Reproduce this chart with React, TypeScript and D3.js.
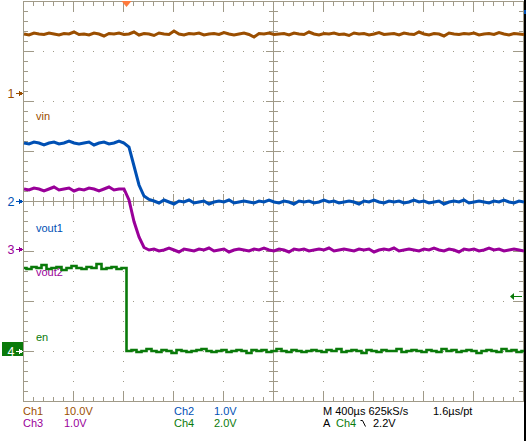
import React from "react";
import * as d3 from "d3";

// Sampling grid of the acquisition (µs relative to trigger)
const T0_US = -820;
const DT_US = 40;

// Ch1 (vin), volts
const ch1Volts = [
  11.8, 11.6, 12.0, 11.8, 11.7, 12.0, 11.8, 11.6, 11.9, 11.8,
  12.2, 11.7, 11.8, 11.6, 12.0, 11.8, 11.4, 11.9, 11.8, 12.0,
  11.7, 11.8, 12.2, 11.6, 11.9, 11.8, 11.5, 12.0, 11.8, 11.7,
  12.4, 11.8, 11.6, 11.9, 11.8, 12.0, 11.6, 11.8, 11.9, 11.7,
  12.1, 11.8, 11.6, 11.8, 12.0, 11.7, 11.2, 11.9, 11.8, 12.0,
  11.7, 11.8, 11.9, 11.6, 12.0, 11.8, 11.7, 12.2, 11.8, 11.6,
  11.9, 11.8, 12.0, 11.7, 11.8, 11.5, 12.0, 11.8, 11.9, 11.6,
  11.8, 12.1, 11.7, 11.8, 11.9, 11.6, 12.0, 11.8, 11.7, 12.2,
  11.8, 11.6, 11.9, 11.8, 11.4, 12.0, 11.8, 11.7, 11.9, 11.8,
  12.0, 11.6, 11.8, 11.9, 11.7, 12.1, 11.8, 11.6, 11.9, 11.8, 11.7,
];

// Ch2 (vout1), volts
const ch2Volts = [
  1.16, 1.14, 1.18, 1.16, 1.12, 1.16, 1.18, 1.14, 1.16, 1.20,
  1.16, 1.14, 1.16, 1.18, 1.12, 1.16, 1.18, 1.14, 1.16, 1.20, 1.16,
  1.08, 0.70, 0.32, 0.10, 0.03,
  0.00, -0.04, 0.02, -0.02, -0.06, 0.00, -0.02, 0.02, -0.04, -0.02,
  0.00, -0.06, -0.02, 0.00, -0.02, 0.02, -0.04, -0.02, 0.00, -0.02,
  -0.04, 0.00, -0.02, 0.02, -0.02, -0.04, 0.00, -0.02, -0.06, 0.00,
  -0.02, 0.00, -0.04, -0.02, 0.02, -0.02, 0.00, -0.04, -0.02, 0.00,
  -0.02, -0.06, 0.00, -0.02, 0.02, -0.02, -0.04, 0.00, -0.02, 0.00,
  -0.04, -0.02, 0.02, -0.02, 0.00, -0.04, -0.02, 0.00, -0.06, -0.02,
  0.00, -0.02, 0.02, -0.04, -0.02, 0.00, -0.02, -0.04, 0.00, -0.02,
  0.02, -0.02, -0.04, 0.00, -0.02,
];

// Ch3 (vout2), volts
const ch3Volts = [
  1.20, 1.18, 1.22, 1.20, 1.16, 1.20, 1.24, 1.18, 1.20, 1.22,
  1.16, 1.20, 1.18, 1.22, 1.20, 1.16, 1.20, 1.24, 1.18, 1.20, 1.20,
  0.98, 0.55, 0.24, 0.03,
  -0.02, 0.00, -0.04, -0.02, 0.02, -0.02, -0.06, 0.00, -0.02, -0.04,
  0.00, -0.02, 0.02, -0.04, -0.02, 0.00, -0.06, -0.02, 0.00, -0.02,
  -0.04, 0.00, -0.02, 0.02, -0.02, -0.04, 0.00, -0.02, -0.06, 0.00,
  -0.02, 0.00, -0.04, -0.02, 0.00, -0.02, 0.02, -0.04, -0.02, 0.00,
  -0.02, -0.04, 0.00, -0.02, 0.00, -0.06, -0.02, 0.00, -0.02, 0.02,
  -0.04, -0.02, 0.00, -0.02, -0.04, 0.00, -0.02, 0.02, -0.02, -0.04,
  0.00, -0.02, -0.06, 0.00, -0.02, 0.00, -0.04, -0.02, 0.02, -0.02,
  0.00, -0.04, -0.02, 0.00, -0.02, -0.04,
];

// Ch4 (en), volts
const ch4Volts = [
  3.32, 3.28, 3.36, 3.32, 3.44, 3.28, 3.32, 3.36, 3.24, 3.32,
  3.40, 3.32, 3.28, 3.36, 3.32, 3.48, 3.28, 3.32, 3.36, 3.28, 3.32,
  0.00, 0.04, -0.04, 0.00, 0.08, 0.00, -0.04, 0.04, 0.00, -0.08,
  0.04, 0.00, -0.04, 0.00, 0.04, 0.08, 0.00, -0.04, 0.00, 0.04,
  -0.04, 0.00, 0.04, 0.00, -0.08, 0.04, 0.00, 0.04, -0.04, 0.00,
  0.08, 0.00, -0.04, 0.04, 0.00, -0.04, 0.00, 0.04, 0.00, -0.04,
  0.04, 0.00, 0.08, -0.04, 0.00, 0.04, 0.00, -0.08, 0.04, 0.00,
  -0.04, 0.04, 0.00, 0.00, 0.08, -0.04, 0.00, 0.04, 0.00, -0.04,
  0.04, 0.00, -0.04, 0.08, 0.00, 0.04, -0.04, 0.00, 0.04, 0.00,
  -0.08, 0.00, 0.04, 0.00, -0.04, 0.08, 0.00, 0.04, -0.04, 0.00,
];

const channelNames = ["Ch1", "Ch2", "Ch3", "Ch4"];
const channelNumbers = ["1", "2", "3", "4"];
const voltsPerDiv = [10, 1, 1, 2];
const offsetDivs = [2.16, 0, -0.96, -3.0];
const traceLabels = ["vin", "vout1", "vout2", "en"];
const scaleLabels = ["10.0V", "1.0V", "1.0V", "2.0V"];
const timebaseText = "M 400µs 625kS/s";
const sampleText = "1.6µs/pt";
const triggerSource = "Ch4";
const triggerLevelText = "2.2V";
const triggerLevelV = 2.2;
const timeDomainUs = [-828, 3172];

const channelColors = ["#9a4e00", "#0050b4", "#990099", "#0a7a0a"];
const GRID = "#a09a88";
const FONT = "'Liberation Sans', Arial, sans-serif";

export default function App() {
  const L = 23, R = 523, T = 1, B = 401;
  const gx = d3.scaleLinear().domain([0, 10]).range([L, R]);
  const gy = d3.scaleLinear().domain([0, 8]).range([T, B]);
  const tx = d3.scaleLinear().domain(timeDomainUs).range([L, R]);
  const ys = voltsPerDiv.map((s, i) =>
    d3.scaleLinear().domain([(-4 - offsetDivs[i]) * s, (4 - offsetDivs[i]) * s]).range([B, T])
  );
  const series = [ch1Volts, ch2Volts, ch3Volts, ch4Volts];

  const paths = series.map((vals, i) => {
    const line = d3
      .line<number>()
      .x((_, k) => tx(T0_US + k * DT_US))
      .y((v) => ys[i](v))
      .curve(i === 3 ? d3.curveStep : d3.curveLinear);
    return line(vals) || "";
  });

  const cx = gx(5), cy = gy(4);
  const dots: JSX.Element[] = [];
  for (let i = 1; i < 10; i++) {
    if (i === 5) continue;
    const x = gx(i);
    for (let y = T + 10; y < B; y += 10) dots.push(<rect key={`v${i}-${y}`} x={x} y={y} width={1} height={1} fill={GRID} />);
  }
  for (let j = 1; j < 8; j++) {
    if (j === 4) continue;
    const y = gy(j);
    for (let x = L + 10; x < R; x += 10) dots.push(<rect key={`h${j}-${x}`} x={x} y={y} width={1} height={1} fill={GRID} />);
  }

  const ticks: JSX.Element[] = [];
  for (let x = L + 10, k = 1; x < R; x += 10, k++) {
    const major = k % 5 === 0;
    const len = major ? 11 : 5;
    ticks.push(<rect key={`tt${k}`} x={x} y={T} width={1} height={len} fill={GRID} />);
    ticks.push(<rect key={`tb${k}`} x={x} y={B - len + 1} width={1} height={len} fill={GRID} />);
    const h = major ? 7 : 4;
    ticks.push(<rect key={`tc${k}`} x={x} y={cy - h} width={1} height={2 * h + 1} fill={GRID} />);
  }
  for (let y = T + 10, k = 1; y < B; y += 10, k++) {
    const major = k % 5 === 0;
    const len = major ? 11 : 5;
    ticks.push(<rect key={`tl${k}`} x={L} y={y} width={len} height={1} fill={GRID} />);
    ticks.push(<rect key={`tr${k}`} x={R - len + 1} y={y} width={len} height={1} fill={GRID} />);
    const h = major ? 7 : 4;
    ticks.push(<rect key={`tv${k}`} x={cx - h} y={y} width={2 * h + 1} height={1} fill={GRID} />);
  }

  const markerLabelY = [120, 232, 276, 341];
  const trigX = tx(0);
  const trigY = ys[3](triggerLevelV);

  const marker = (i: number) => {
    const y = Math.round(ys[i](0));
    const boxed = i === 3;
    const col = boxed ? "#ffffff" : channelColors[i];
    return (
      <g key={`m${i}`}>
        {boxed && <rect x={2} y={y - 9} width={21} height={14} fill={channelColors[3]} />}
        <text x={11} y={y + 4.5} fontSize={12.5} fontFamily={FONT} fill={col} textAnchor="middle">
          {channelNumbers[i]}
        </text>
        <rect x={16} y={y} width={4} height={1} fill={col} />
        <path d={`M${19},${y - 2.5} L${23},${y + 0.5} L${19},${y + 3.5} Z`} fill={col} />
      </g>
    );
  };

  return (
    <svg width={526} height={441} style={{ position: "absolute", left: 0, top: 0 }} shapeRendering="crispEdges">
      <defs>
        <clipPath id="plot">
          <rect x={L} y={T} width={R - L + 1} height={B - T + 1} />
        </clipPath>
      </defs>
      <rect x={0} y={0} width={526} height={441} fill="#ffffff" />
      <rect x={524} y={0} width={2} height={441} fill="#000000" />
      <rect x={524} y={10} width={2} height={4} fill={channelColors[1]} />
      {dots}
      <rect x={L} y={cy} width={R - L} height={1} fill={GRID} />
      <rect x={cx} y={T} width={1} height={B - T} fill={GRID} />
      {ticks}
      <rect x={L} y={T} width={1} height={B - T + 1} fill={GRID} />
      <rect x={R} y={T} width={1} height={B - T + 1} fill={GRID} />
      <rect x={L} y={T} width={R - L + 1} height={1} fill={GRID} />
      <rect x={L} y={B} width={R - L + 1} height={1} fill={GRID} />

      {traceLabels.map((lab, i) => (
        <text key={lab} x={36} y={markerLabelY[i]} fontSize={11} fontFamily={FONT} fill={channelColors[i]}>
          {lab}
        </text>
      ))}

      <g clipPath="url(#plot)" shapeRendering="auto">
        {paths.map((d, i) => (
          <path key={i} d={d} fill="none" stroke={channelColors[i]} strokeWidth={i === 3 ? 2.6 : 3} strokeLinejoin="miter" />
        ))}
      </g>

      <path d={`M${trigX - 5},${T} L${trigX + 5},${T} L${trigX},${T + 6} Z`} fill="#ff7a3c" shapeRendering="auto" />

      <g>
        <rect x={512} y={Math.round(trigY)} width={10} height={1} fill={channelColors[3]} />
        <path d={`M${510},${Math.round(trigY) + 0.5} L${514},${Math.round(trigY) - 3} L${514},${Math.round(trigY) + 4} Z`} fill={channelColors[3]} shapeRendering="auto" />
      </g>

      {[0, 1, 2, 3].map((i) => marker(i))}

      <g fontSize={11} fontFamily={FONT} shapeRendering="auto">
        <text x={23} y={415} fill={channelColors[0]}>{channelNames[0]}</text>
        <text x={64} y={415} fill={channelColors[0]}>{scaleLabels[0]}</text>
        <text x={23} y={427} fill={channelColors[2]}>{channelNames[2]}</text>
        <text x={64} y={427} fill={channelColors[2]}>{scaleLabels[2]}</text>
        <text x={174} y={415} fill={channelColors[1]}>{channelNames[1]}</text>
        <text x={214} y={415} fill={channelColors[1]}>{scaleLabels[1]}</text>
        <text x={174} y={427} fill={channelColors[3]}>{channelNames[3]}</text>
        <text x={214} y={427} fill={channelColors[3]}>{scaleLabels[3]}</text>
        <text x={323} y={415} fill="#000000">{timebaseText}</text>
        <text x={433} y={415} fill="#000000">{sampleText}</text>
        <text x={323} y={427} fill="#000000">A</text>
        <text x={336} y={427} fill={channelColors[3]}>{triggerSource}</text>
        <path d="M360.5,420.5 L362.5,420.5 L365.5,426.5" fill="none" stroke="#000000" strokeWidth={1} />
        <text x={373} y={427} fill="#000000">{triggerLevelText}</text>
      </g>
    </svg>
  );
}
